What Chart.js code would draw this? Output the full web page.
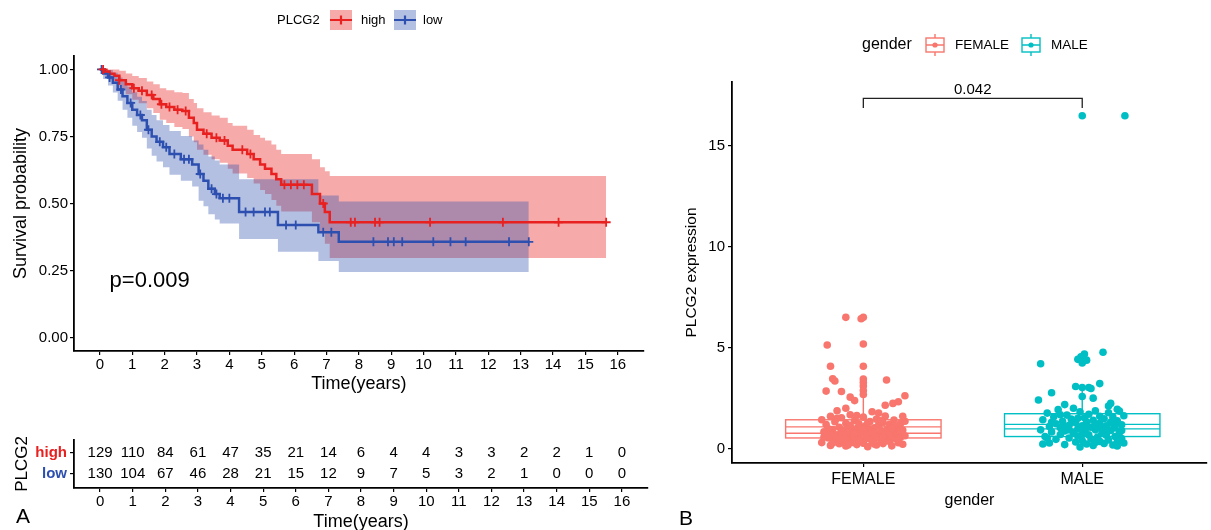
<!DOCTYPE html>
<html lang="en">
<head>
<meta charset="UTF-8">
<title>PLCG2 survival and expression</title>
<script src="https://cdn.jsdelivr.net/npm/chart.js@4.4.0/dist/chart.umd.min.js"></script>
<style>
  html, body { margin: 0; padding: 0; background: #fff; overflow: hidden; }
  #wrap { position: relative; width: 1211px; height: 530px; }
  .pane { position: absolute; }
</style>
</head>
<body>
<div id="wrap">
  <div class="pane" style="left:0;top:0;width:650px;height:400px"><canvas id="km"></canvas></div>
  <div class="pane" style="left:0;top:400px;width:650px;height:140px"><canvas id="risk"></canvas></div>
  <div class="pane" style="left:660px;top:0;width:551px;height:530px"><canvas id="expr"></canvas></div>
</div>
<script>
// ---- survival data ----
const timeTicks = [0,1,2,3,4,5,6,7,8,9,10,11,12,13,14,15,16];
const survTicks = [0, 0.25, 0.5, 0.75, 1];

const highTime  = [0,0.15,0.3,0.45,0.6,0.8,1.0,1.2,1.45,1.65,1.85,2.05,2.3,2.55,2.75,2.9,3.0,3.2,3.45,3.7,3.95,4.1,4.55,4.75,4.95,5.1,5.3,5.45,5.6,6.55,6.8,6.95,7.1,15.64];
const highSurv  = [1,0.992,0.984,0.976,0.96,0.945,0.93,0.92,0.905,0.89,0.87,0.86,0.85,0.845,0.82,0.80,0.775,0.76,0.745,0.735,0.715,0.70,0.685,0.665,0.645,0.63,0.61,0.59,0.57,0.535,0.50,0.468,0.43,0.43];
const highUpper = [1,1,1,1,0.995,0.985,0.975,0.968,0.955,0.945,0.93,0.922,0.915,0.912,0.89,0.875,0.855,0.84,0.828,0.82,0.80,0.79,0.775,0.755,0.745,0.735,0.72,0.70,0.685,0.665,0.635,0.62,0.603,0.603];
const highLower = [1,0.977,0.962,0.95,0.928,0.907,0.887,0.874,0.855,0.837,0.812,0.80,0.785,0.778,0.75,0.728,0.70,0.682,0.665,0.652,0.63,0.612,0.595,0.575,0.55,0.535,0.513,0.492,0.47,0.43,0.39,0.35,0.297,0.297];
const highCensor = [0.1,0.6,1.05,1.3,1.6,1.9,2.15,2.4,2.65,3.3,3.6,3.85,4.4,4.65,5.7,5.9,6.1,6.3,6.9,7.75,7.88,8.5,8.64,10.2,12.45,14.17,15.64];

const lowTime  = [0,0.1,0.25,0.4,0.55,0.7,0.85,1.0,1.15,1.3,1.45,1.6,1.75,1.95,2.15,2.5,2.85,3.05,3.2,3.35,3.55,3.7,4.3,5.5,6.75,7.38,13.25];
const lowSurv  = [1,0.985,0.97,0.95,0.925,0.90,0.875,0.85,0.83,0.81,0.775,0.75,0.73,0.71,0.685,0.665,0.645,0.61,0.585,0.555,0.535,0.52,0.468,0.42,0.393,0.357,0.357];
const lowUpper = [1,1,0.998,0.988,0.97,0.955,0.935,0.915,0.898,0.882,0.85,0.83,0.81,0.793,0.77,0.752,0.735,0.72,0.70,0.675,0.66,0.645,0.59,0.59,0.53,0.507,0.507];
const lowLower = [1,0.964,0.94,0.914,0.883,0.85,0.82,0.79,0.767,0.745,0.705,0.678,0.657,0.635,0.607,0.585,0.563,0.51,0.49,0.46,0.44,0.425,0.368,0.32,0.286,0.245,0.245];
const lowCensor = [0.05,0.3,0.65,0.95,1.25,1.5,1.85,2.05,2.3,2.6,2.75,3.1,3.45,3.6,3.8,4.0,4.5,4.75,5.1,5.25,5.75,6.05,6.9,7.15,8.45,8.9,9.08,9.34,10.3,10.83,11.3,12.64,13.25];

const riskHigh = [129,110,84,61,47,35,21,14,6,4,4,3,3,2,2,1,0];
const riskLow  = [130,104,67,46,28,21,15,12,9,7,5,3,2,1,0,0,0];

// ---- expression data: [jitter, value] ----
const genders = ['FEMALE', 'MALE'];
const femalePoints = [
  [-0.19,0.32],[-0.18,0.85],[-0.17,1.21],[-0.16,0.55],[-0.15,1.62],[-0.15,0.18],[-0.14,0.97],[-0.13,0.42],[-0.13,1.35],[-0.12,0.71],
  [-0.11,0.26],[-0.11,1.08],[-0.10,0.62],[-0.10,1.55],[-0.09,0.38],[-0.09,0.90],[-0.08,1.28],[-0.08,0.15],[-0.07,0.76],[-0.07,1.12],
  [-0.06,0.48],[-0.06,1.70],[-0.05,0.33],[-0.05,0.95],[-0.04,1.41],[-0.04,0.58],[-0.03,0.22],[-0.03,1.02],[-0.02,0.67],[-0.02,1.25],
  [-0.01,0.44],[-0.01,0.83],[0.00,1.58],[0.00,0.29],[0.01,0.73],[0.01,1.15],[0.02,0.52],[0.02,0.12],[0.03,0.99],[0.03,1.36],
  [0.04,0.61],[0.04,0.35],[0.05,1.05],[0.05,0.80],[0.06,1.48],[0.06,0.20],[0.07,0.69],[0.07,1.19],[0.08,0.46],[0.08,0.92],
  [0.09,1.31],[0.09,0.27],[0.10,0.78],[0.10,1.63],[0.11,0.55],[0.11,1.00],[0.12,0.37],[0.12,1.22],[0.13,0.64],[0.13,0.16],
  [0.14,0.88],[0.14,1.44],[0.15,0.50],[0.15,1.10],[0.16,0.31],[0.16,0.74],[0.17,1.27],[0.17,0.58],[0.18,0.94],[0.18,0.24],
  [0.19,1.38],[0.19,0.66],[-0.18,0.60],[-0.16,1.00],[-0.14,0.30],[-0.12,1.52],[-0.10,0.86],[-0.08,0.52],[-0.06,1.18],[-0.04,0.78],
  [-0.02,0.40],[0.00,0.96],[0.02,1.30],[0.04,0.84],[0.06,0.58],[0.08,1.40],[0.10,0.40],[0.12,0.82],[0.14,1.16],[0.16,0.44],
  [0.18,1.62],[-0.19,1.45],[-0.11,0.48],[-0.03,1.66],[0.05,0.25],[0.13,1.02],[-0.07,0.20],[0.09,0.60],[0.17,0.90],[-0.15,0.70],
  [-0.08,6.52],[-0.01,6.45],[0.00,6.52],[-0.165,5.15],[0.00,5.20],[-0.15,4.10],[0.00,4.10],[-0.14,3.48],[-0.13,3.37],[0.106,3.42],
  [0.00,3.47],[0.00,3.12],[0.00,2.90],[-0.17,2.87],[-0.10,2.85],[-0.06,2.57],[-0.04,2.40],[0.19,2.64],[0.16,2.34],[0.135,2.26],
  [-0.08,2.02],[0.10,2.17],[0.00,3.30],[0.00,2.70],[-0.12,1.90],[0.04,1.85],[0.07,1.78]
];
const malePoints = [
  [-0.19,0.95],[-0.18,1.45],[-0.17,0.62],[-0.16,1.78],[-0.15,1.12],[-0.15,0.30],[-0.14,0.85],[-0.13,1.60],[-0.12,1.25],[-0.12,0.48],
  [-0.11,1.95],[-0.10,0.72],[-0.10,1.05],[-0.09,1.38],[-0.08,0.22],[-0.08,0.90],[-0.07,1.68],[-0.06,1.18],[-0.06,0.55],[-0.05,1.48],
  [-0.04,0.80],[-0.04,2.02],[-0.03,0.35],[-0.03,1.30],[-0.02,1.00],[-0.02,0.65],[-0.01,1.85],[-0.01,0.10],[0.00,1.15],[0.00,0.42],
  [0.01,1.55],[0.01,0.88],[0.02,0.25],[0.02,1.35],[0.03,0.70],[0.03,1.72],[0.04,1.08],[0.04,0.50],[0.05,1.42],[0.05,0.18],
  [0.06,0.95],[0.06,1.90],[0.07,0.60],[0.07,1.22],[0.08,0.38],[0.08,1.62],[0.09,1.02],[0.09,0.78],[0.10,1.50],[0.10,0.28],
  [0.11,1.15],[0.11,0.68],[0.12,1.80],[0.12,0.45],[0.13,1.32],[0.13,0.92],[0.14,0.20],[0.14,1.58],[0.15,1.05],[0.15,0.62],
  [0.16,1.40],[0.16,0.35],[0.17,1.88],[0.17,0.82],[0.18,1.20],[0.18,0.52],[0.19,0.30],[0.19,1.65],[-0.18,0.25],[-0.14,1.32],
  [-0.10,1.70],[-0.06,0.95],[-0.02,1.52],[0.02,1.05],[0.06,0.32],[0.10,0.90],[0.14,1.25],[0.18,0.92],[-0.16,0.55],[-0.08,1.10],
  [0.00,0.72],[0.08,1.28],[0.16,0.15],
  [0.00,16.5],[0.195,16.5],[-0.19,4.22],[-0.02,4.44],[-0.006,4.57],[0.01,4.70],[0.00,4.26],[0.02,4.40],[0.095,4.79],[-0.14,2.79],
  [-0.20,2.43],[-0.03,3.10],[0.00,3.05],[0.03,3.05],[0.04,3.00],[0.08,3.24],[0.05,2.52],[0.13,2.26],[0.12,2.13],[0.16,1.97],
  [-0.08,2.20],[0.00,2.60]
];
// box stats per gender: whisker low, Q1, two middle lines, Q3, whisker high
const boxLow  = [0.10, 0.05];
const boxQ1   = [0.55, 0.62];
const boxMidA = [0.78, 1.00];
const boxMidB = [1.10, 1.22];
const boxQ3   = [1.45, 1.75];
const boxHigh = [3.40, 3.10];
const pValue = '0.042';

const FONT = '"Liberation Sans", Arial, Helvetica, sans-serif';
Chart.defaults.font.family = FONT;
Chart.defaults.color = '#000';

const RED = '#e8201f', BLUE = '#2d4fb0';
const RED_BAND = 'rgba(232,32,31,0.38)', BLUE_BAND = 'rgba(45,79,176,0.36)';
const F_COL = '#F8766D', M_COL = '#00BFC4';

function steps(t, v) { return t.map((x, i) => ({ x: x, y: v[i] })); }
function survAt(t, s, x) {
  let v = s[0];
  for (let i = 0; i < t.length; i++) if (t[i] <= x) v = s[i];
  return v;
}
function marks(t, s, c) { return c.map(x => ({ x: x, y: survAt(t, s, x) })); }

// ---------- KM plot ----------
const kmDecor = {
  id: 'kmDecor',
  afterDraw(chart) {
    const { ctx, scales: { x, y } } = chart;
    ctx.save();
    ctx.fillStyle = '#000';
    ctx.font = '22px ' + FONT;
    ctx.textBaseline = 'middle';
    ctx.fillText('p=0.009', x.getPixelForValue(0.3), y.getPixelForValue(0.21));

    // legend
    ctx.font = '13px ' + FONT;
    ctx.fillText('PLCG2', 277, 20);
    [[330, RED_BAND, RED, 'high', 361], [394, BLUE_BAND, BLUE, 'low', 423]].forEach(it => {
      const [lx, band, col, txt, tx] = it;
      ctx.fillStyle = band;
      ctx.fillRect(lx, 10, 22, 20);
      ctx.strokeStyle = col;
      ctx.lineWidth = 2.2;
      ctx.beginPath();
      ctx.moveTo(lx, 20); ctx.lineTo(lx + 22, 20);
      ctx.moveTo(lx + 11, 15.5); ctx.lineTo(lx + 11, 24.5);
      ctx.stroke();
      ctx.fillStyle = '#000';
      ctx.fillText(txt, tx, 20);
    });
    ctx.restore();
  }
};

new Chart(document.getElementById('km'), {
  type: 'line',
  data: {
    datasets: [
      { data: marks(highTime, highSurv, highCensor), showLine: false, pointStyle: 'cross', pointRadius: 4.5, borderColor: RED, borderWidth: 1.8 },
      { data: marks(lowTime, lowSurv, lowCensor), showLine: false, pointStyle: 'cross', pointRadius: 4.5, borderColor: BLUE, borderWidth: 1.8 },
      { data: steps(highTime, highSurv), stepped: true, borderColor: RED, borderWidth: 2.5, pointRadius: 0, fill: false },
      { data: steps(lowTime, lowSurv), stepped: true, borderColor: BLUE, borderWidth: 2.5, pointRadius: 0, fill: false },
      { data: steps(lowTime, lowUpper), stepped: true, borderWidth: 0, pointRadius: 0, backgroundColor: BLUE_BAND, fill: '+1' },
      { data: steps(lowTime, lowLower), stepped: true, borderWidth: 0, pointRadius: 0, fill: false },
      { data: steps(highTime, highUpper), stepped: true, borderWidth: 0, pointRadius: 0, backgroundColor: RED_BAND, fill: '+1' },
      { data: steps(highTime, highLower), stepped: true, borderWidth: 0, pointRadius: 0, fill: false }
    ]
  },
  options: {
    responsive: true, maintainAspectRatio: false, animation: false,
    layout: { padding: { top: 56, right: 2, left: 0, bottom: 0 } },
    plugins: { legend: { display: false }, tooltip: { enabled: false } },
    scales: {
      x: {
        type: 'linear', min: -0.8, max: 16.8,
        afterBuildTicks: s => { s.ticks = timeTicks.map(v => ({ value: v })); },
        afterFit: s => { s.height = 49; },
        grid: { drawOnChartArea: false, tickLength: 4, color: '#000', lineWidth: 1.2 },
        border: { color: '#000', width: 1.8 },
        ticks: { font: { size: 15 }, color: '#000', padding: 1, maxRotation: 0, autoSkip: false },
        title: { display: true, text: 'Time(years)', font: { size: 18 }, color: '#000', padding: { top: 0, bottom: 5 } }
      },
      y: {
        min: -0.05, max: 1.05,
        afterBuildTicks: s => { s.ticks = survTicks.map(v => ({ value: v })); },
        afterFit: s => { s.width = 74; },
        grid: { drawOnChartArea: false, tickLength: 4, color: '#000', lineWidth: 1.2 },
        border: { color: '#000', width: 1.8 },
        ticks: { font: { size: 15 }, color: '#000', padding: 2, callback: v => Number(v).toFixed(2) },
        title: { display: true, text: 'Survival probability', font: { size: 18 }, color: '#000', padding: { top: 10, bottom: 0 } }
      }
    }
  },
  plugins: [kmDecor]
});

// ---------- risk table ----------
const riskText = {
  id: 'riskText',
  afterDatasetsDraw(chart) {
    const { ctx } = chart;
    ctx.save();
    ctx.fillStyle = '#000';
    ctx.font = '15px ' + FONT;
    ctx.textAlign = 'center';
    ctx.textBaseline = 'middle';
    [riskHigh, riskLow].forEach((counts, di) => {
      chart.getDatasetMeta(di).data.forEach((el, i) => {
        ctx.fillText(String(counts[i]), el.x, el.y);
      });
    });
    ctx.textAlign = 'left';
    ctx.textBaseline = 'alphabetic';
    ctx.font = '21px ' + FONT;
    ctx.fillText('A', 16, 123);
    ctx.restore();
  }
};

new Chart(document.getElementById('risk'), {
  type: 'scatter',
  data: {
    datasets: [
      { data: timeTicks.map(t => ({ x: t, y: 1 })), pointRadius: 0 },
      { data: timeTicks.map(t => ({ x: t, y: 0 })), pointRadius: 0 }
    ]
  },
  options: {
    responsive: true, maintainAspectRatio: false, animation: false,
    layout: { padding: { top: 40, right: 2, left: 0, bottom: 0 } },
    plugins: { legend: { display: false }, tooltip: { enabled: false } },
    scales: {
      x: {
        type: 'linear', min: -0.8, max: 16.8,
        afterBuildTicks: s => { s.ticks = timeTicks.map(v => ({ value: v })); },
        afterFit: s => { s.height = 52; },
        grid: { drawOnChartArea: false, tickLength: 4, color: '#000', lineWidth: 1.2 },
        border: { color: '#000', width: 1.8 },
        ticks: { font: { size: 15 }, color: '#000', padding: 1, maxRotation: 0, autoSkip: false },
        title: { display: true, text: 'Time(years)', font: { size: 18 }, color: '#000', padding: { top: 0, bottom: 7 } }
      },
      y: {
        min: -0.667, max: 1.62,
        afterBuildTicks: s => { s.ticks = [{ value: 0 }, { value: 1 }]; },
        afterFit: s => { s.width = 74; },
        grid: { drawOnChartArea: false, tickLength: 4, color: '#000', lineWidth: 1.2 },
        border: { color: '#000', width: 1.8 },
        ticks: {
          font: { size: 15, weight: 'bold' }, padding: 3,
          color: c => (c.tick && c.tick.value === 1 ? RED : BLUE),
          callback: v => (v === 1 ? 'high' : 'low')
        },
        title: { display: true, text: 'PLCG2', font: { size: 17 }, color: '#000', padding: { top: 12, bottom: 0 } }
      }
    }
  },
  plugins: [riskText]
});

// ---------- expression box plot ----------
const boxes = {
  id: 'boxes',
  beforeDatasetsDraw(chart) {
    const { ctx, scales: { x, y } } = chart;
    ctx.save();
    ctx.lineWidth = 1.4;
    [F_COL, M_COL].forEach((col, i) => {
      const cx = x.getPixelForValue(i);
      const half = x.getPixelForValue(i + 0.355) - cx;
      ctx.strokeStyle = col;
      ctx.beginPath();
      ctx.moveTo(cx, y.getPixelForValue(boxQ3[i])); ctx.lineTo(cx, y.getPixelForValue(boxHigh[i]));
      ctx.moveTo(cx, y.getPixelForValue(boxQ1[i])); ctx.lineTo(cx, y.getPixelForValue(boxLow[i]));
      ctx.stroke();
      const top = y.getPixelForValue(boxQ3[i]), bot = y.getPixelForValue(boxQ1[i]);
      ctx.strokeRect(cx - half, top, 2 * half, bot - top);
      ctx.beginPath();
      [boxMidA[i], boxMidB[i]].forEach(v => {
        const py = y.getPixelForValue(v);
        ctx.moveTo(cx - half, py); ctx.lineTo(cx + half, py);
      });
      ctx.stroke();
    });
    ctx.restore();
  },
  afterDraw(chart) {
    const { ctx, scales: { x, y } } = chart;
    ctx.save();
    // significance bracket
    const x0 = x.getPixelForValue(0), x1 = x.getPixelForValue(1);
    const yb = y.getPixelForValue(17.36), yl = y.getPixelForValue(16.88);
    ctx.strokeStyle = '#222';
    ctx.lineWidth = 1.3;
    ctx.beginPath();
    ctx.moveTo(x0, yl); ctx.lineTo(x0, yb); ctx.lineTo(x1, yb); ctx.lineTo(x1, yl);
    ctx.stroke();
    ctx.fillStyle = '#000';
    ctx.font = '15px ' + FONT;
    ctx.textAlign = 'center';
    ctx.textBaseline = 'bottom';
    ctx.fillText(pValue, (x0 + x1) / 2, yb - 1);

    // legend
    ctx.textAlign = 'left';
    ctx.textBaseline = 'middle';
    ctx.font = '16px ' + FONT;
    ctx.fillText('gender', 202, 45);
    ctx.font = '13.5px ' + FONT;
    [[265, F_COL, 'FEMALE', 295], [361, M_COL, 'MALE', 391]].forEach(it => {
      const [lx, col, txt, tx] = it;
      ctx.strokeStyle = col;
      ctx.fillStyle = col;
      ctx.lineWidth = 1.4;
      ctx.strokeRect(lx + 1, 38, 18, 14);
      ctx.beginPath();
      ctx.moveTo(lx + 10, 34); ctx.lineTo(lx + 10, 38);
      ctx.moveTo(lx + 10, 52); ctx.lineTo(lx + 10, 56);
      ctx.moveTo(lx + 1, 45); ctx.lineTo(lx + 19, 45);
      ctx.stroke();
      ctx.beginPath();
      ctx.arc(lx + 10, 45, 2.6, 0, Math.PI * 2);
      ctx.fill();
      ctx.fillStyle = '#000';
      ctx.fillText(txt, tx, 45);
    });
    ctx.font = '21px ' + FONT;
    ctx.textBaseline = 'alphabetic';
    ctx.fillText('B', 19, 525);
    ctx.restore();
  }
};

new Chart(document.getElementById('expr'), {
  type: 'scatter',
  data: {
    datasets: [
      { data: femalePoints.map(p => ({ x: 0 + p[0], y: p[1] })), backgroundColor: F_COL, borderWidth: 0, pointRadius: 3.8 },
      { data: malePoints.map(p => ({ x: 1 + p[0], y: p[1] })), backgroundColor: M_COL, borderWidth: 0, pointRadius: 3.8 }
    ]
  },
  options: {
    responsive: true, maintainAspectRatio: false, animation: false,
    layout: { padding: { top: 82, right: 0, left: 0, bottom: 0 } },
    plugins: { legend: { display: false }, tooltip: { enabled: false } },
    scales: {
      x: {
        type: 'linear', min: -0.6, max: 1.57,
        afterBuildTicks: s => { s.ticks = [{ value: 0 }, { value: 1 }]; },
        afterFit: s => { s.height = 67; },
        grid: { drawOnChartArea: false, tickLength: 4, color: '#000', lineWidth: 1.2 },
        border: { color: '#000', width: 1.8 },
        ticks: { font: { size: 16 }, color: '#000', padding: 3, maxRotation: 0, callback: v => genders[v] },
        title: { display: true, text: 'gender', font: { size: 16 }, color: '#000', padding: { top: 0, bottom: 20 } }
      },
      y: {
        min: -0.69, max: 18.17,
        afterBuildTicks: s => { s.ticks = [0, 5, 10, 15].map(v => ({ value: v })); },
        afterFit: s => { s.width = 72; },
        grid: { drawOnChartArea: false, tickLength: 4, color: '#000', lineWidth: 1.2 },
        border: { color: '#000', width: 1.8 },
        ticks: { font: { size: 15 }, color: '#000', padding: 3 },
        title: { display: true, text: 'PLCG2 expression', font: { size: 15.5 }, color: '#000', padding: { top: 22, bottom: 0 } }
      }
    }
  },
  plugins: [boxes]
});
</script>
</body>
</html>
